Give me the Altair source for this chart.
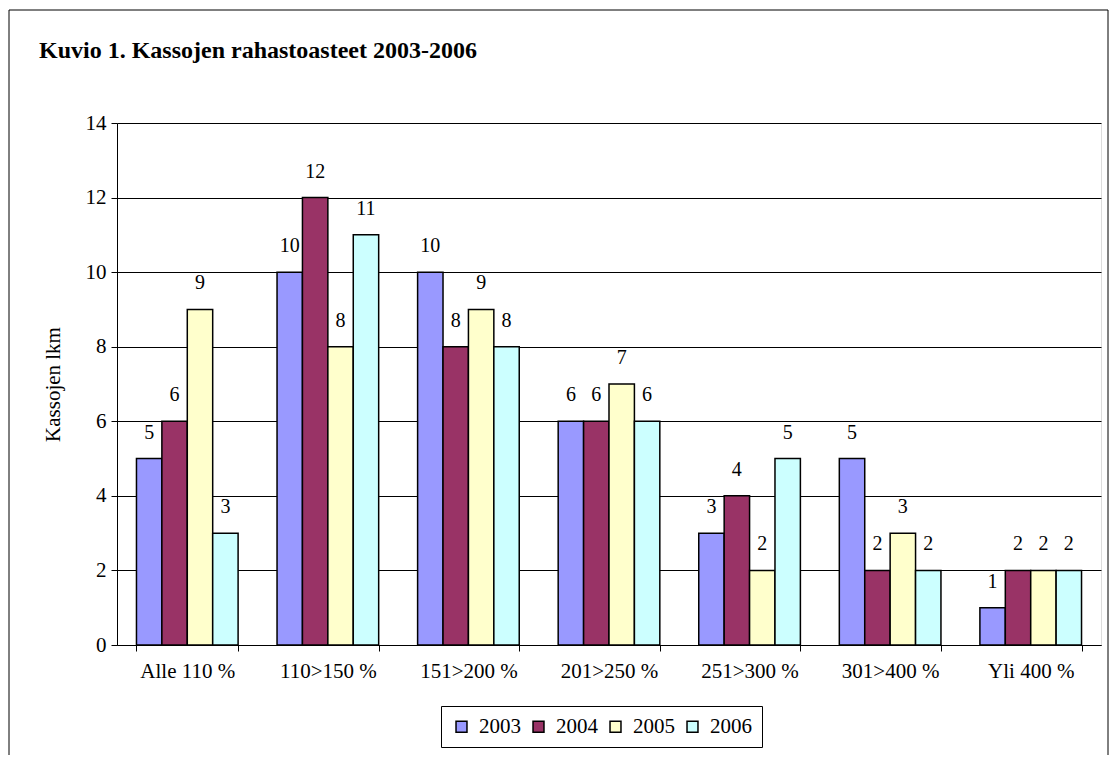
import altair as alt
import pandas as pd

categories = ["Alle 110 %", "110>150 %", "151>200 %", "201>250 %",
              "251>300 %", "301>400 %", "Yli 400 %"]
years = ["2003", "2004", "2005", "2006"]
v2003 = [5, 10, 10, 6, 3, 5, 1]
v2004 = [6, 12, 8, 6, 4, 2, 2]
v2005 = [9, 8, 9, 7, 2, 3, 2]
v2006 = [3, 11, 8, 6, 5, 2, 2]
colors = ["#9999FF", "#993366", "#FFFFCC", "#CCFFFF"]

rows = []
for y, vals in zip(years, [v2003, v2004, v2005, v2006]):
    for c, v in zip(categories, vals):
        rows.append({"cat": c, "year": y, "value": v})
df = pd.DataFrame(rows)

FONT = "Liberation Serif"

x_enc = alt.X("cat:N", sort=categories, title=None,
              scale=alt.Scale(paddingInner=0.277, paddingOuter=0.1385),
              axis=alt.Axis(labelAngle=0, labelFontSize=21, labelFont=FONT,
                            labelColor="black", tickColor="black", tickSize=6,
                            tickBand="extent", labelPadding=9,
                            domainColor="black", grid=False))
y_enc = alt.Y("value:Q", title="Kassojen lkm",
              scale=alt.Scale(domain=[0, 14], nice=False),
              axis=alt.Axis(values=[0, 2, 4, 6, 8, 10, 12, 14],
                            labelFontSize=21, labelFont=FONT, labelColor="black",
                            tickColor="black", tickSize=6, labelPadding=5,
                            domainColor="black", gridColor="black", gridWidth=1,
                            gridOpacity=1, titleFont=FONT, titleFontSize=21,
                            titleFontWeight="normal", titleColor="black",
                            titlePadding=22))
off_enc = alt.XOffset("year:N", sort=years)

bars = alt.Chart(df).mark_bar(stroke="black", strokeWidth=1.5).encode(
    x=x_enc,
    y=y_enc,
    xOffset=off_enc,
    color=alt.Color("year:N", sort=years,
                    scale=alt.Scale(domain=years, range=colors),
                    legend=alt.Legend(title=None, orient="none",
                                      legendX=324, legendY=583,
                                      direction="horizontal",
                                      strokeColor="black", padding=10,
                                      symbolType="square", symbolSize=120,
                                      symbolStrokeColor="black",
                                      symbolStrokeWidth=1.5,
                                      labelFont=FONT, labelFontSize=21,
                                      labelColor="black", labelOffset=7,
                                      columnPadding=7, fillColor="white")),
)

labels = alt.Chart(df).mark_text(baseline="alphabetic", dy=-20, font=FONT,
                                 fontSize=20, color="black").encode(
    x=x_enc,
    y=y_enc,
    xOffset=off_enc,
    text=alt.Text("value:Q"),
)

border = alt.Chart(pd.DataFrame({"a": [0]})).mark_rect(
    fill=None, stroke="black", strokeWidth=1).encode(
    x=alt.value(-108), x2=alt.value(991),
    y=alt.value(-113), y2=alt.value(634),
)

chart = alt.layer(border, bars, labels).properties(
    width=984, height=522,
    padding={"left": 109, "top": 115, "right": 10, "bottom": 110},
    autosize=alt.AutoSizeParams(type="none"),
    title=alt.TitleParams("Kuvio 1. Kassojen rahastoasteet 2003-2006",
                          anchor="start", frame="group", dx=-78, dy=72,
                          baseline="alphabetic",
                          font=FONT, fontSize=24, fontWeight="bold",
                          color="black", offset=0),
).configure_view(stroke="black", strokeWidth=1).configure(
    background="white", font=FONT)

chart.save("out.html", embed_options={"renderer": "svg", "actions": False})
